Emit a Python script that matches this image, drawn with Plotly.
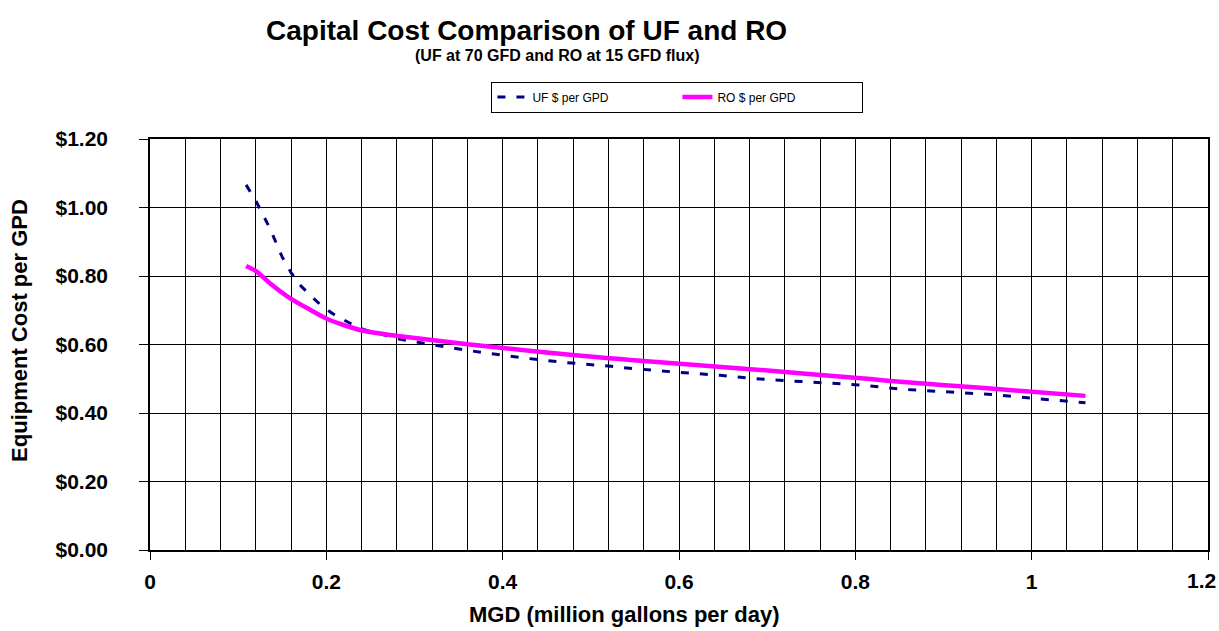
import plotly.graph_objects as go

uf_x = [0.109, 0.121, 0.136, 0.150, 0.160, 0.170, 0.182, 0.196, 0.211, 0.227, 0.242,
        0.284, 0.333, 0.378, 0.426, 0.473, 0.520, 0.547, 0.598, 0.647, 0.698, 0.751,
        0.804, 0.855, 0.961, 1.010, 1.061]
uf_y = [1.066, 1.015, 0.939, 0.855, 0.810, 0.774, 0.743, 0.710, 0.684, 0.662, 0.644,
        0.615, 0.594, 0.576, 0.560, 0.547, 0.537, 0.530, 0.519, 0.510, 0.498, 0.490,
        0.482, 0.469, 0.453, 0.441, 0.430]

ro_x = [0.109, 0.121, 0.136, 0.159, 0.182, 0.200, 0.223, 0.242, 0.272, 0.360, 0.441,
        0.521, 0.545, 0.681, 0.817, 0.851, 0.950, 1.061]
ro_y = [0.829, 0.813, 0.779, 0.735, 0.701, 0.676, 0.654, 0.640, 0.628, 0.601, 0.579,
        0.560, 0.555, 0.528, 0.499, 0.491, 0.472, 0.450]

x_tick_vals = [0, 0.2, 0.4, 0.6, 0.8, 1.0, 1.2]
x_tick_text = ["0", "0.2", "0.4", "0.6", "0.8", "1", "1.2"]

title = "Capital Cost Comparison of UF and RO"
subtitle = "(UF at 70 GFD and RO at 15 GFD flux)"
x_title = "MGD (million gallons per day)"
y_title = "Equipment Cost per GPD"

FONT = "Liberation Sans, Arial, sans-serif"
TICKFONT = dict(size=21, family=FONT, color="black", weight="bold")

fig = go.Figure()
fig.add_trace(go.Scatter(x=uf_x, y=uf_y, mode="lines", name="UF $ per GPD",
                         line=dict(color="#000080", width=3, dash="8px,11px")))
fig.add_trace(go.Scatter(x=ro_x, y=ro_y, mode="lines", name="RO $ per GPD",
                         line=dict(color="#FF00FF", width=4.5, shape="spline", smoothing=0.6)))

# the last x tick label sits just inside the right edge (as in the reference),
# so it is drawn as an annotation anchored at that tick value
shown_text = x_tick_text[:-1] + [""]

fig.update_layout(
    width=1219, height=631,
    margin=dict(l=150, r=11, t=139, b=81, autoexpand=False),
    paper_bgcolor="white", plot_bgcolor="white",
    font=dict(family=FONT, color="black"),
    showlegend=True,
    legend=dict(orientation="h", x=0.4985, xanchor="center", y=1.102, yanchor="middle",
                bordercolor="black", borderwidth=1, bgcolor="white",
                font=dict(size=12, family=FONT), entrywidth=140, tracegroupgap=0),
    xaxis=dict(range=[0, 1.2], tickvals=x_tick_vals, ticktext=shown_text,
               showgrid=True, gridcolor="black",
               gridwidth=1, zeroline=False, showline=True, linecolor="black", linewidth=1.5,
               mirror=True, ticks="outside", ticklen=8, tickcolor="black",
               tickfont=TICKFONT, automargin=False,
               minor=dict(dtick=0.04, tick0=0, showgrid=True, gridcolor="black", gridwidth=1, ticks=""),
               ticklabelstandoff=4),
    yaxis=dict(range=[0, 1.2], dtick=0.2, tick0=0, showgrid=True, gridcolor="black",
               gridwidth=1, zeroline=False, showline=True, linecolor="black", linewidth=1.5,
               mirror=True, ticks="outside", ticklen=9, tickcolor="black",
               tickprefix="$", tickformat=".2f", automargin=False,
               tickfont=TICKFONT, ticklabelstandoff=27),
    annotations=[
        dict(text="<b>%s</b>" % title, xref="paper", yref="paper", x=0.356, y=1.265,
             xanchor="center", yanchor="middle", showarrow=False, font=dict(size=28, family=FONT)),
        dict(text="<b>%s</b>" % subtitle, xref="paper", yref="paper", x=0.385, y=1.204,
             xanchor="center", yanchor="middle", showarrow=False, font=dict(size=16, family=FONT)),
        dict(text="<b>%s</b>" % x_title, xref="paper", yref="paper", x=0.448, y=-0.158,
             xanchor="center", yanchor="middle", showarrow=False, font=dict(size=22, family=FONT)),
        dict(text="<b>%s</b>" % y_title, xref="paper", yref="paper", x=-0.124, y=0.535,
             xanchor="center", yanchor="middle", showarrow=False, textangle=-90,
             font=dict(size=22, family=FONT)),
        dict(text="<b>%s</b>" % x_tick_text[-1], xref="x", yref="paper", x=x_tick_vals[-1],
             y=-0.0754, xanchor="right", yanchor="middle", xshift=9, showarrow=False,
             font=dict(size=21, family=FONT), borderpad=0),
    ],
)

fig.write_html("out.html", config={"displayModeBar": False},
               post_script="document.body.style.margin='0';")
